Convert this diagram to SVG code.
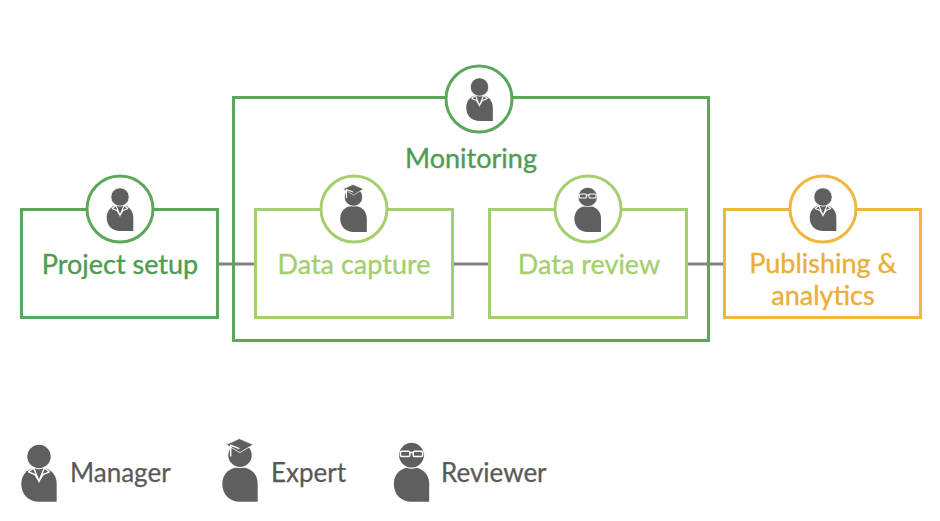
<svg xmlns="http://www.w3.org/2000/svg" width="940" height="521" viewBox="0 0 940 521">
<style>
.box{fill:none;stroke-width:3}
.disc{fill:#fff;stroke-width:3}
.g{stroke:#5BA75B}.l{stroke:#A5CF6E}.o{stroke:#EFB73E}
.t{font-family:"Lato","Open Sans",sans-serif;font-size:27px;text-anchor:middle;stroke-width:.35}
.tg{fill:#4F9B4F;stroke:#4F9B4F}.tl{fill:#A5CF6E;stroke:#A5CF6E}.to{fill:#EBAE38;stroke:#EBAE38}
.leg{font-family:"Lato","Open Sans",sans-serif;font-size:26px;fill:#595959;stroke:#595959;stroke-width:.25}
.conn{stroke:#808080;stroke-width:3;fill:none}
.ink{fill:#5F5F5F}
.head{fill:#5F5F5F;stroke:#fff;stroke-width:.8}
.w{fill:none;stroke:#fff;stroke-width:1.1}
</style>
<defs>
<path id="body" class="ink" d="M13.3,13 V-0.5 C13.3,-8.5 7.5,-13 0,-13 C-7.5,-13 -13.3,-8.5 -13.3,-0.5 C-13.3,8 -7.5,13 0,13 Z"/>
<g id="manager">
<use href="#body"/>
<circle class="head" cx="0" cy="-21" r="9.2"/>
<path class="w" d="M-8,-9.5 L-4,-12.5 L0,-2.5 L4,-12.5 L8,-9.5 M-8,-9.5 L-3,-7.5 L0,-2.5 L3,-7.5 L8,-9.5"/>
</g>
<g id="expert">
<use href="#body"/>
<circle class="head" cx="0" cy="-22" r="9.2"/>
<path class="ink" d="M-0.5,-34.5 L10,-30 L0,-24 L-10.5,-30 Z" stroke="#fff" stroke-width="0.6"/>
<path class="w" d="M-0.5,-27 L-7,-29.5 V-21"/>
</g>
<g id="reviewer">
<use href="#body"/>
<circle class="head" cx="0" cy="-22" r="9.7"/>
<rect class="w" x="-8.3" y="-25" width="7" height="4" rx="1"/>
<rect class="w" x="1.3" y="-25" width="7" height="4" rx="1"/>
<path class="w" d="M-1.3,-24 H1.3"/>
</g>
</defs>
<g id="connectors">
<path class="conn" d="M218,264 H255 M453,264 H489 M687,264 H724"/>
</g>
<g id="monitoring">
<rect class="box g" x="233.5" y="97.5" width="475" height="243"/>
<circle class="disc g" cx="479" cy="99" r="33"/>
<use href="#manager" x="479.5" y="108"/>
<text class="t tg" x="471" y="168">Monitoring</text>
</g>
<g id="project-setup">
<rect class="box g" x="21.5" y="209.5" width="196" height="108"/>
<circle class="disc g" cx="120" cy="209" r="33"/>
<use href="#manager" x="120" y="218"/>
<text class="t tg" x="120" y="274">Project setup</text>
</g>
<g id="data-capture">
<rect class="box l" x="255.5" y="209.5" width="197" height="108"/>
<circle class="disc l" cx="354" cy="209" r="33"/>
<use href="#expert" x="353.5" y="219"/>
<text class="t tl" x="354" y="274">Data capture</text>
</g>
<g id="data-review">
<rect class="box l" x="489.5" y="209.5" width="197" height="108"/>
<circle class="disc l" cx="588" cy="209" r="33"/>
<use href="#reviewer" x="587.7" y="219"/>
<text class="t tl" x="589" y="274">Data review</text>
</g>
<g id="publishing">
<rect class="box o" x="724.5" y="209.5" width="196" height="108"/>
<circle class="disc o" cx="823" cy="209" r="33"/>
<use href="#manager" x="823" y="218"/>
<text class="t to" x="823" y="273">Publishing &amp;</text>
<text class="t to" x="823" y="305">analytics</text>
</g>
<g id="legend-manager">
<use href="#manager" transform="translate(39 484.5) scale(1.33)"/>
<text class="leg" x="70" y="482">Manager</text>
</g>
<g id="legend-expert">
<use href="#expert" transform="translate(240 484.5) scale(1.33)"/>
<text class="leg" x="271" y="482">Expert</text>
</g>
<g id="legend-reviewer">
<use href="#reviewer" transform="translate(411.5 484.5) scale(1.33)"/>
<text class="leg" x="441" y="482">Reviewer</text>
</g>
</svg>
